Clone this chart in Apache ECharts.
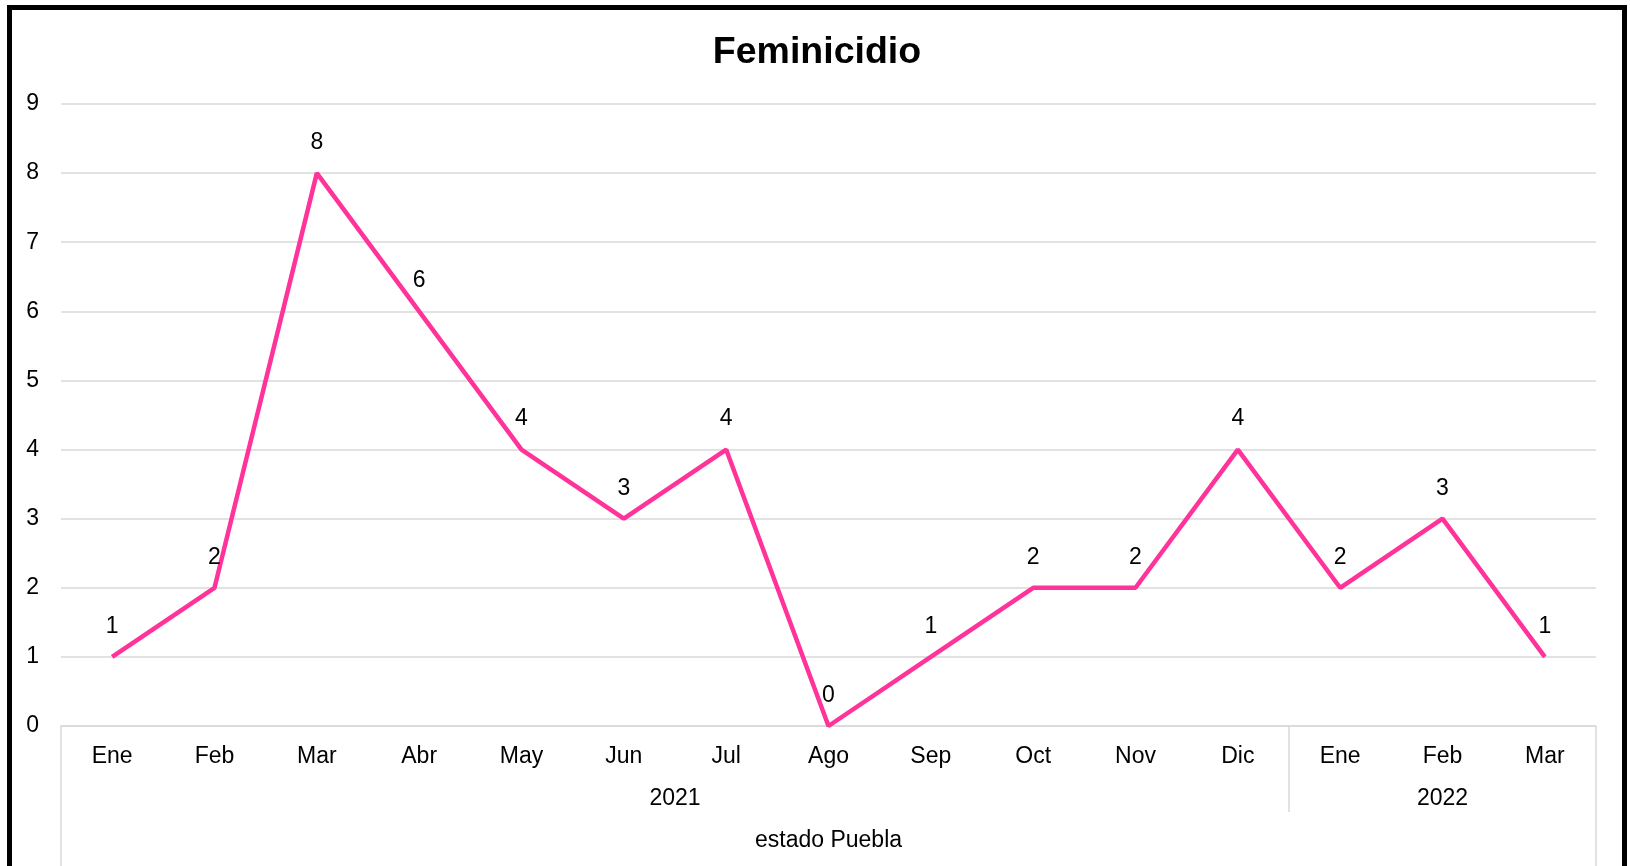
<!DOCTYPE html>
<html>
<head>
<meta charset="utf-8">
<title>Feminicidio</title>
<script src="https://cdn.jsdelivr.net/npm/echarts@6/dist/echarts.min.js"></script>
<style>
  html, body { margin: 0; padding: 0; background: #fff; overflow: hidden; }
  #wrap {
    position: absolute; left: 7px; top: 5px;
    width: 1610px; height: 900px;
    border: 5px solid #000;
  }
  #main { width: 100%; height: 100%; }
</style>
</head>
<body>
<div id="wrap"><div id="main"></div></div>
<script>
// months shown on the first axis level
const months = ['Ene', 'Feb', 'Mar', 'Abr', 'May', 'Jun', 'Jul', 'Ago', 'Sep', 'Oct', 'Nov', 'Dic', 'Ene', 'Feb', 'Mar'];
// cases per month
const casos = [1, 2, 8, 6, 4, 3, 4, 0, 1, 2, 2, 4, 2, 3, 1];
// second level: years and how many months each one covers
const years = ['2021', '2022'];
const yearSpans = [12, 3];
// third level
const region = 'estado Puebla';
const yTicks = [0, 1, 2, 3, 4, 5, 6, 7, 8, 9];

const font = "'Liberation Sans', Arial, sans-serif";
const gridColor = '#d9d9d9';
const fs = 23;

// boundaries and centres of the year groups, in month units
let yearBounds = [];
let yearCenters = [];
let acc = 0;
yearSpans.forEach((n, i) => {
    yearCenters.push(acc + n / 2);
    acc += n;
    if (i < yearSpans.length - 1) yearBounds.push(acc);
});
const total = months.length;

const chart = echarts.init(document.getElementById('main'));

const option = {
    animation: false,
    title: {
        text: 'Feminicidio',
        left: 'center',
        top: 19,
        textStyle: { fontFamily: font, fontSize: 37.5, fontWeight: 'bold', color: '#000' }
    },
    grid: { left: 49, right: 26, top: 94, height: 622 },
    xAxis: [
        {
            type: 'category',
            data: months,
            boundaryGap: true,
            axisLine: { show: true, lineStyle: { color: gridColor, width: 1.5 } },
            axisTick: { show: false },
            axisLabel: { color: '#000', fontFamily: font, fontSize: fs, margin: 19, interval: 0 }
        },
        {
            type: 'value',
            min: 0,
            max: total,
            position: 'bottom',
            axisLine: { show: false },
            splitLine: { show: false },
            axisTick: {
                show: true,
                customValues: yearBounds,
                length: 86,
                lineStyle: { color: gridColor, width: 1.5 }
            },
            axisLabel: {
                customValues: yearCenters,
                formatter: v => years[yearCenters.indexOf(v)],
                color: '#000', fontFamily: font, fontSize: fs, margin: 61
            }
        },
        {
            type: 'value',
            min: 0,
            max: total,
            position: 'bottom',
            axisLine: { show: false },
            splitLine: { show: false },
            axisTick: {
                show: true,
                customValues: [0, total],
                length: 200,
                lineStyle: { color: gridColor, width: 1.5 }
            },
            axisLabel: {
                customValues: [total / 2],
                formatter: () => region,
                color: '#000', fontFamily: font, fontSize: fs, margin: 103
            }
        }
    ],
    yAxis: {
        type: 'value',
        min: yTicks[0],
        max: yTicks[yTicks.length - 1],
        interval: 1,
        axisLine: { show: false },
        axisTick: { show: false },
        splitLine: { show: true, lineStyle: { color: gridColor, width: 1.5 } },
        axisLabel: { color: '#000', fontFamily: font, fontSize: fs, margin: 22 }
    },
    series: [
        {
            type: 'line',
            data: casos,
            xAxisIndex: 0,
            symbol: 'circle',
            symbolSize: 0,
            lineStyle: { color: '#ff3399', width: 4.5 },
            itemStyle: { color: '#ff3399' },
            label: {
                show: true,
                position: 'top',
                distance: 19,
                color: '#000',
                fontFamily: font,
                fontSize: fs
            }
        }
    ]
};

chart.setOption(option);
</script>
</body>
</html>
